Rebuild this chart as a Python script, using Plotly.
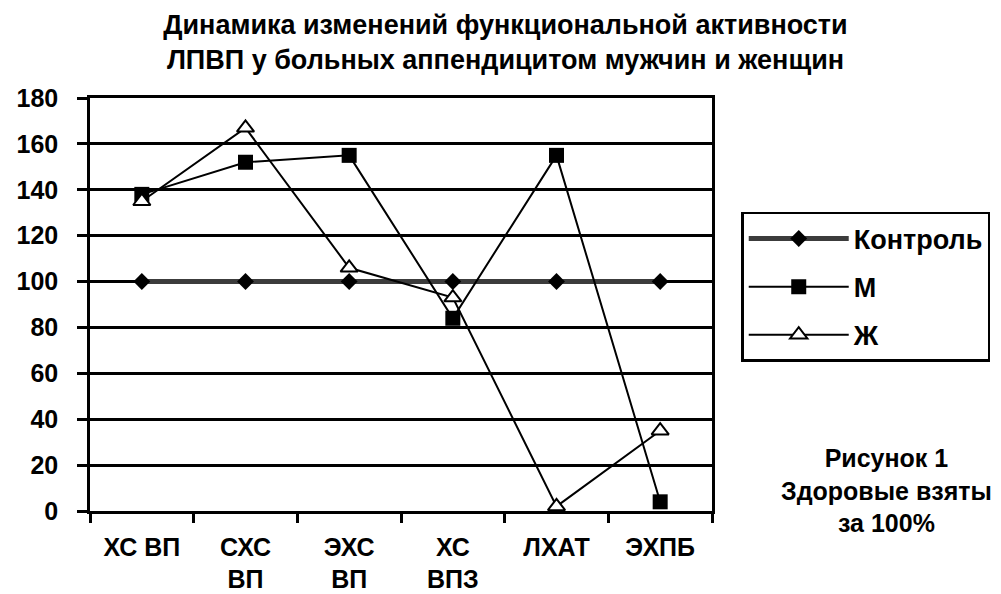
import plotly.graph_objects as go

categories = ["ХС ВП", "СХС<br>ВП", "ЭХС<br>ВП", "ХС<br>ВПЗ", "ЛХАТ", "ЭХПБ"]
control = [100, 100, 100, 100, 100, 100]
men = [138, 152, 155, 84, 155, 4]
women = [135, 167, 106, 93, 2, 35]
y_ticks = [0, 20, 40, 60, 80, 100, 120, 140, 160, 180]

FONT = "Liberation Sans, Arial, sans-serif"

fig = go.Figure()
fig.add_trace(go.Scatter(
    x=categories, y=control, name="Контроль", mode="lines+markers",
    line=dict(color="#3c3c3c", width=5),
    marker=dict(symbol="diamond", size=13, color="black"),
    legendgroup="a"))
fig.add_trace(go.Scatter(
    x=categories, y=men, name="М", mode="lines+markers",
    line=dict(color="black", width=2),
    marker=dict(symbol="square", size=15, color="black"),
    legendgroup="b"))
fig.add_trace(go.Scatter(
    x=categories, y=women, name="Ж", mode="lines+markers",
    line=dict(color="black", width=2),
    marker=dict(symbol="triangle-up", size=15, color="white",
                line=dict(color="black", width=2)),
    legendgroup="c"))

fig.update_layout(
    width=1001, height=594,
    margin=dict(l=82, r=297, t=90, b=91, autoexpand=False),
    paper_bgcolor="white", plot_bgcolor="white",
    font=dict(family=FONT, size=25, color="black", weight="bold"),
    title=dict(
        text="Динамика изменений функциональной активности<br>ЛПВП у больных аппендицитом мужчин и женщин",
        xref="container", x=0.497, xanchor="center",
        yref="container", y=0.957, yanchor="middle",
        font=dict(family=FONT, size=27, color="black", weight="bold")),
    showlegend=True,
    legend=dict(
        x=1.047, xanchor="left", y=0.724, yanchor="top",
        bordercolor="black", borderwidth=2.5, bgcolor="white",
        font=dict(family=FONT, size=27, color="black", weight="bold"),
        tracegroupgap=10, itemwidth=100),
    xaxis=dict(
        type="category", range=[-0.5, 5.5],
        showgrid=False, showline=True, linecolor="black", linewidth=2.5, mirror=True,
        ticks="outside", tickson="boundaries", ticklen=9, tickcolor="black", tickwidth=2.5,
        ticklabelstandoff=12, zeroline=False,
        tickfont=dict(family=FONT, size=25, weight="bold")),
    yaxis=dict(
        range=[0, 180], tickvals=y_ticks,
        showgrid=True, gridcolor="black", gridwidth=2.5,
        showline=True, linecolor="black", linewidth=2.5, mirror=True,
        ticks="outside", ticklen=10, tickcolor="black", tickwidth=2.5,
        ticklabelstandoff=14, zeroline=False,
        tickfont=dict(family=FONT, size=25, weight="bold")),
    annotations=[dict(
        text="Рисунок 1<br>Здоровые взяты<br>за 100%",
        xref="paper", yref="paper", x=1.28, y=0.05, xanchor="center", yanchor="middle",
        showarrow=False, align="center",
        font=dict(family=FONT, size=25, color="black", weight="bold"))],
)

fig.write_html("out.html")
